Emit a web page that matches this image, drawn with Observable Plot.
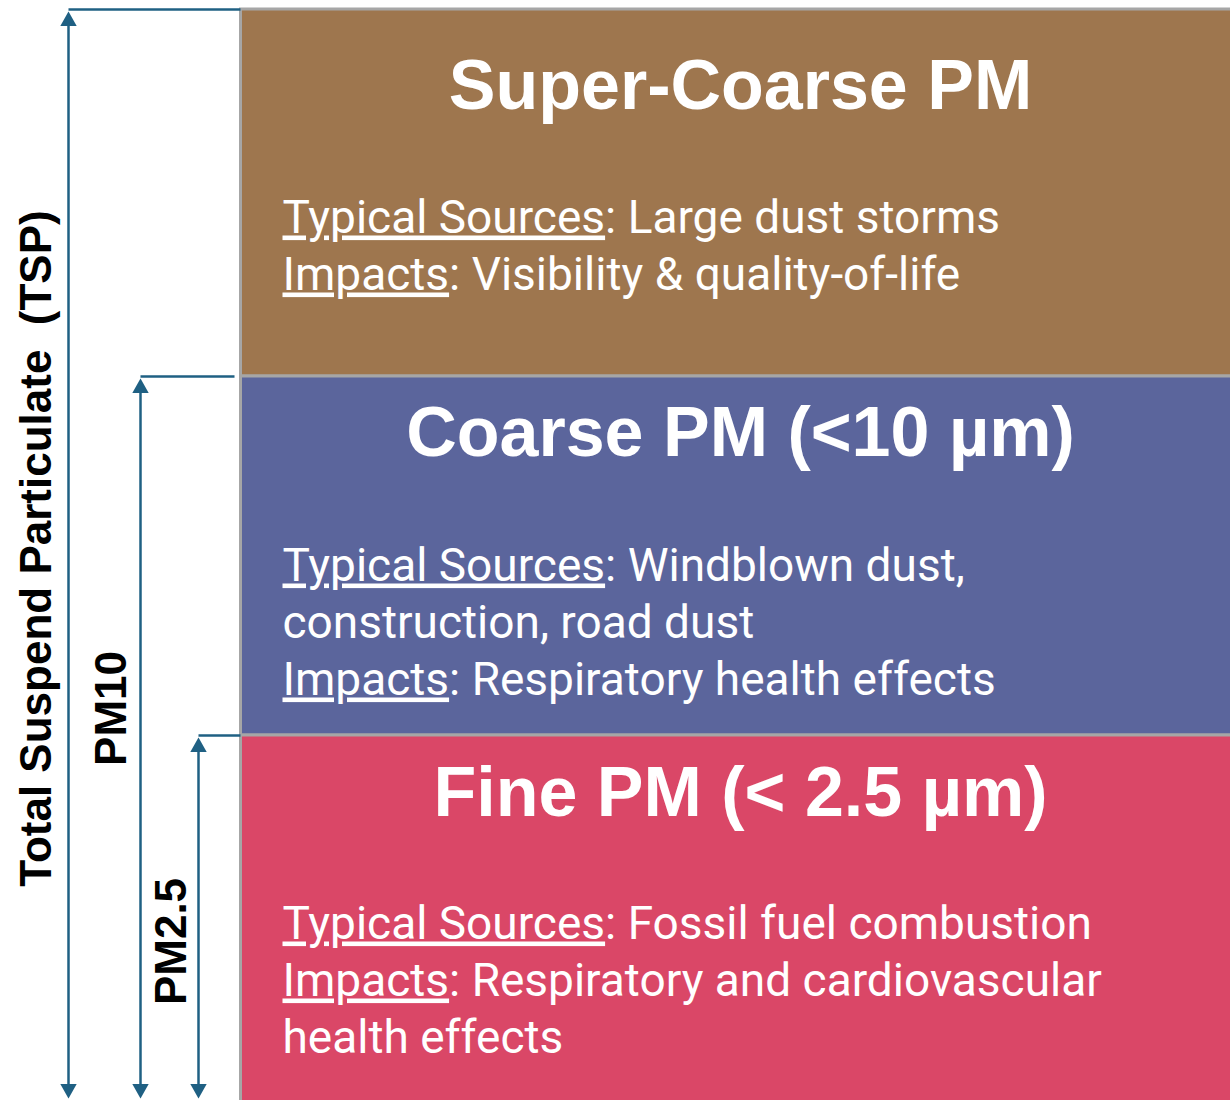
<!DOCTYPE html>
<html><head><meta charset="utf-8">
<script src="https://cdn.jsdelivr.net/npm/d3@7"></script>
<script src="https://cdn.jsdelivr.net/npm/@observablehq/plot@0.6"></script>
<style>
html,body{margin:0;padding:0;background:#fff;}
#chart svg{display:block;}
#chart tspan.ul{text-decoration:underline;}
</style></head><body><div id="chart"></div>
<script>
// ---- data ----
const categories = ["Super-Coarse PM", "Coarse PM (<10 µm)", "Fine PM (< 2.5 µm)"];
const bandLower = [724, 365, 0];
const bandUpper = [1091, 724, 365];
const bandColors = ["#9e764e", "#5b659c", "#da4767"];
const sources = ["Large dust storms", "Windblown dust,\nconstruction, road dust", "Fossil fuel combustion"];
const impacts = ["Visibility & quality-of-life", "Respiratory health effects", "Respiratory and cardiovascular\nhealth effects"];
const sourceLabel = "Typical Sources";
const impactLabel = "Impacts";
const bracketLabels = ["Total Suspend Particulate  (TSP)", "PM10", "PM2.5"];
const bracketTops = [1091, 724, 365];
const bracketBottom = 0;

// ---- layout (positions / styles) ----
const L = {
  boxLeft: 240.5, boxRight: 1240,
  titleX: 740, titleDrop: [99, 79, 80],
  textX: 282, textDrop: [223, 204, 203], lineStep: 57,
  bracketX: [68, 140, 198], bracketEnd: [240, 234, 240],
  labelX: [36, 111, 171], labelY: [552, 392, 159],
  tipGap: 2, headR: 6.3,
  ink: "#1f6083", border: "#a6a6a6",
  bodyFont: "Roboto", bodySize: 46, boldFont: "Liberation Sans"
};

const boxes = categories.map((c, i) => ({c, y1: i === 2 ? bandLower[i] - 4 : bandLower[i], y2: bandUpper[i], fill: bandColors[i]}));
const titles = categories.map((c, i) => ({c, y: bandUpper[i] - L.titleDrop[i]}));
const lines = [];
categories.forEach((c, i) => {
  const segs = [];
  sources[i].split("\n").forEach((t, k) => segs.push(k === 0 ? {label: sourceLabel, rest: ": " + t} : {label: "", rest: t}));
  impacts[i].split("\n").forEach((t, k) => segs.push(k === 0 ? {label: impactLabel, rest: ": " + t} : {label: "", rest: t}));
  segs.forEach((s, j) => lines.push({...s, y: bandUpper[i] - L.textDrop[i] - j * L.lineStep}));
});
const brackets = bracketLabels.map((label, i) => ({
  label, top: bracketTops[i], bottom: bracketBottom,
  x: L.bracketX[i], xEnd: L.bracketEnd[i], lx: L.labelX[i], ly: L.labelY[i]
}));

const triUp = {draw(ctx, size) { const r = Math.sqrt(size / Math.PI); const w = 1.3 * r, h = 2.3 * r; ctx.moveTo(0, 0); ctx.lineTo(-w, h); ctx.lineTo(w, h); ctx.closePath(); }};
const triDown = {draw(ctx, size) { const r = Math.sqrt(size / Math.PI); const w = 1.3 * r, h = 2.3 * r; ctx.moveTo(0, 0); ctx.lineTo(-w, -h); ctx.lineTo(w, -h); ctx.closePath(); }};

const svg = Plot.plot({
  width: 1230, height: 1100,
  marginLeft: 0, marginRight: 0, marginTop: 9, marginBottom: 0,
  x: {domain: [0, 1230], axis: null},
  y: {domain: [0, 1091], axis: null},
  color: {type: "identity"},
  style: {background: "white", overflow: "hidden"},
  marks: [
    Plot.rect(boxes, {x1: L.boxLeft, x2: L.boxRight, y1: "y1", y2: "y2", fill: "fill", stroke: L.border, strokeWidth: 3}),
    Plot.text(titles, {x: L.titleX, y: "y", text: "c", fill: "white", fontSize: 70, fontWeight: "bold", fontFamily: L.boldFont, textAnchor: "middle", lineAnchor: "bottom"}),
    Plot.text(lines, {x: L.textX, y: "y", text: d => d.label + d.rest, fill: "white", fontSize: L.bodySize, fontFamily: L.bodyFont, textAnchor: "start", lineAnchor: "bottom"}),
    Plot.link(brackets, {x1: "x", x2: "xEnd", y1: "top", y2: "top", stroke: L.ink, strokeWidth: 2.5}),
    Plot.link(brackets, {x1: "x", x2: "x", y1: d => d.top - L.tipGap - 9, y2: d => d.bottom + L.tipGap + 9, stroke: L.ink, strokeWidth: 2.5}),
    Plot.dot(brackets, {x: "x", y: d => d.top - L.tipGap, symbol: triUp, r: L.headR, fill: L.ink, stroke: null}),
    Plot.dot(brackets, {x: "x", y: d => d.bottom + L.tipGap, symbol: triDown, r: L.headR, fill: L.ink, stroke: null}),
    Plot.text(brackets, {x: "lx", y: "ly", text: "label", rotate: -90, fontSize: 44, fontWeight: "bold", fontFamily: L.boldFont, fill: "black", textAnchor: "middle", lineAnchor: "middle"})
  ]
});

// underline the "Typical Sources" / "Impacts" labels
d3.select(svg).selectAll("text").each(function() {
  const t = d3.select(this);
  if (this.querySelector("tspan")) return;
  const s = this.textContent;
  const lab = [sourceLabel, impactLabel].find(l => s.startsWith(l + ":"));
  if (!lab) return;
  t.text(null);
  t.append("tspan").attr("class", "ul").attr("text-decoration", "underline").style("text-decoration", "underline").text(lab);
  t.append("tspan").text(s.slice(lab.length));
});

document.getElementById("chart").appendChild(svg);
</script>
</body></html>
